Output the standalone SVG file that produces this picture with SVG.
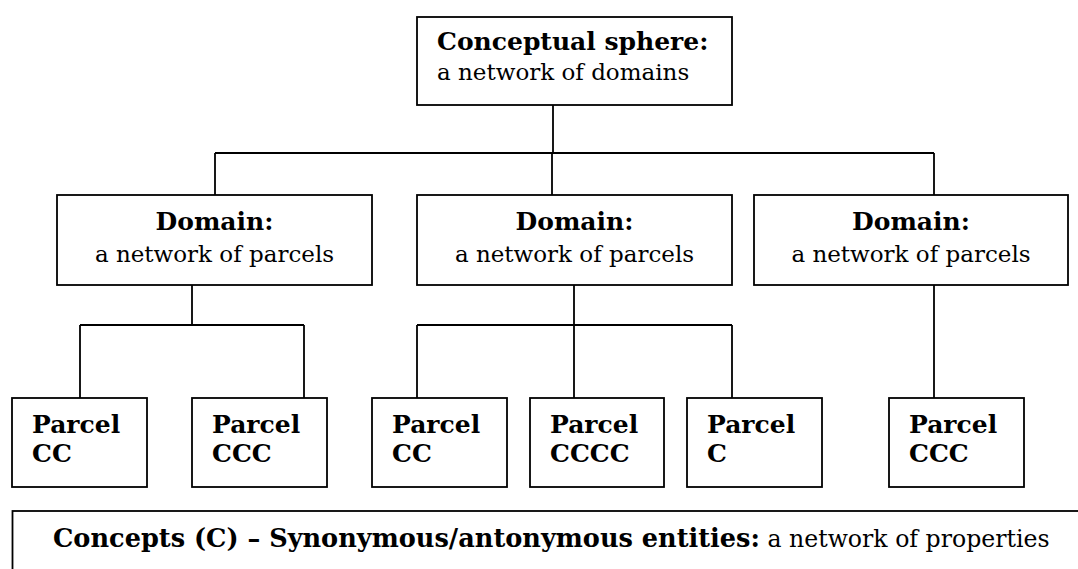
<svg xmlns="http://www.w3.org/2000/svg" width="1078" height="569" viewBox="0 0 1078 569">
<style>
.box{fill:#fff;stroke:#000;stroke-width:1.8}
.ln{fill:none;stroke:#000;stroke-width:1.8}
.b{font-family:"DejaVu Serif",Georgia,serif;font-weight:bold;font-size:25px;fill:#000}
.r{font-family:"DejaVu Serif",Georgia,serif;font-size:23px;fill:#000}
.p{font-family:"DejaVu Serif",Georgia,serif;font-weight:bold;font-size:25px;fill:#000}
.bb{font-family:"DejaVu Serif",Georgia,serif;font-weight:bold;font-size:25.6px;fill:#000}
.rb{font-family:"DejaVu Serif",Georgia,serif;font-size:23.6px;fill:#000}
</style>
<rect width="1078" height="569" fill="#fff"/>
<g id="connectors">
<path class="ln" d="M553,105V153M215,153H934M215,153V195M552,153V195M934,153V195"/>
<path class="ln" d="M192,285V325M80,325H304M80,325V398M304,325V398"/>
<path class="ln" d="M574,285V325M417,325H732M417,325V398M574,325V398M732,325V398"/>
<path class="ln" d="M934,285V398"/>
</g>
<g id="top">
<rect class="box" x="417" y="17" width="315" height="88"/>
<text class="b" x="437" y="50">Conceptual sphere:</text>
<text class="r" x="437" y="80">a network of domains</text>
</g>
<g id="domain1">
<rect class="box" x="57" y="195" width="315" height="90"/>
<text class="b" x="214.5" y="230" text-anchor="middle">Domain:</text>
<text class="r" x="214.5" y="262" text-anchor="middle">a network of parcels</text>
</g>
<g id="domain2">
<rect class="box" x="417" y="195" width="315" height="90"/>
<text class="b" x="574.5" y="230" text-anchor="middle">Domain:</text>
<text class="r" x="574.5" y="262" text-anchor="middle">a network of parcels</text>
</g>
<g id="domain3">
<rect class="box" x="754" y="195" width="314" height="90"/>
<text class="b" x="911" y="230" text-anchor="middle">Domain:</text>
<text class="r" x="911" y="262" text-anchor="middle">a network of parcels</text>
</g>
<g id="parcel1">
<rect class="box" x="12" y="398" width="135" height="89"/>
<text class="p" x="32" y="433">Parcel</text>
<text class="p" x="32" y="462">CC</text>
</g>
<g id="parcel2">
<rect class="box" x="192" y="398" width="135" height="89"/>
<text class="p" x="212" y="433">Parcel</text>
<text class="p" x="212" y="462">CCC</text>
</g>
<g id="parcel3">
<rect class="box" x="372" y="398" width="135" height="89"/>
<text class="p" x="392" y="433">Parcel</text>
<text class="p" x="392" y="462">CC</text>
</g>
<g id="parcel4">
<rect class="box" x="530" y="398" width="134" height="89"/>
<text class="p" x="550" y="433">Parcel</text>
<text class="p" x="550" y="462">CCCC</text>
</g>
<g id="parcel5">
<rect class="box" x="687" y="398" width="135" height="89"/>
<text class="p" x="707" y="433">Parcel</text>
<text class="p" x="707" y="462">C</text>
</g>
<g id="parcel6">
<rect class="box" x="889" y="398" width="135" height="89"/>
<text class="p" x="909" y="433">Parcel</text>
<text class="p" x="909" y="462">CCC</text>
</g>
<g id="concepts">
<rect class="box" x="12.5" y="511" width="1100" height="100"/>
<text x="53" y="547"><tspan class="bb">Concepts (C) – Synonymous/antonymous entities:</tspan><tspan class="rb"> a network of properties</tspan></text>
</g>
</svg>
